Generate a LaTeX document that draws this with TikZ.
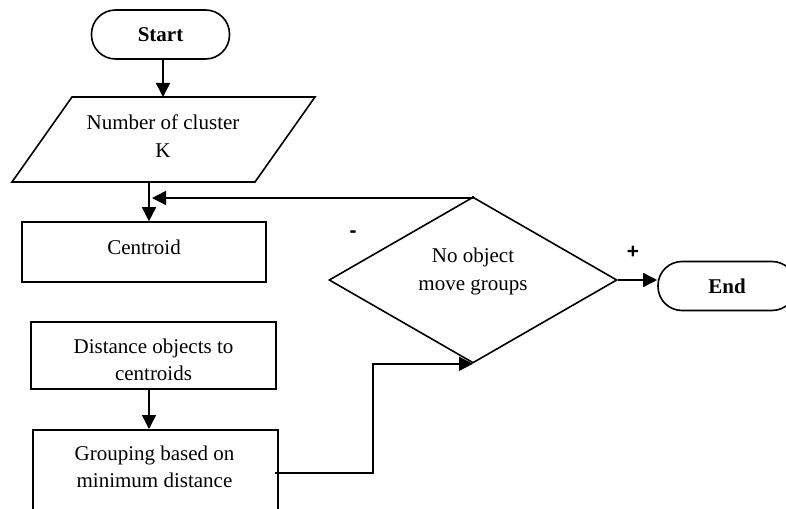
\documentclass[tikz,border=0pt]{standalone}
\usepackage{fontspec}
\setmainfont{Liberation Serif}
\newfontfamily\signfont{Liberation Sans}
\usetikzlibrary{arrows.meta,shapes.geometric}
\begin{document}
\begin{tikzpicture}[x=1pt,y=-1pt,
  line width=1.6pt,
  every node/.style={font=\fontsize{21}{27.5}\selectfont, inner sep=0pt},
  term/.style={draw, rounded corners=24pt, minimum width=138pt, minimum height=49pt},
  boxnode/.style={draw, rectangle},
  txt/.style={align=center},
  decision/.style={draw, diamond, minimum width=288pt, minimum height=166pt, aspect=1.735},
  sign/.style={font=\fontsize{21}{24}\signfont\bfseries},
  arr/.style={-{Triangle[length=14pt,width=14pt]}}
]
\useasboundingbox (0,0) rectangle (786,508);
\clip (0,0) rectangle (786,508);
\fill[white] (0,0) rectangle (786,508);

% Start
\node[term] (start) at (160.5,34.5) {\textbf{Start}};

% Parallelogram input
\coordinate (ptl) at (72,97);
\coordinate (ptr) at (315,97);
\coordinate (pbr) at (255,182);
\coordinate (pbl) at (12,182);
\draw (ptl) -- (ptr) -- (pbr) -- (pbl) -- cycle;
\node[txt] (numk) at (163,136) {Number of cluster\\K};
\coordinate (pin) at (163,97);
\coordinate (pout) at (149,182);

% Centroid
\node[boxnode, minimum width=244pt, minimum height=60pt] (centroid) at (144,252) {};
\node (centroidtxt) at (144,247) {Centroid};

% Distance box
\node[boxnode, minimum width=245pt, minimum height=67pt] (dist) at (153.5,355.5) {};
\begin{scope}
\clip (31,322) rectangle (276,381);
\node[txt] (disttxt) at (153.5,360) {Distance objects to\\centroids};
\end{scope}

% Grouping box
\node[boxnode, minimum width=245pt, minimum height=120pt, anchor=north west] (group) at (32,429) {};
\node[txt] (grouptxt) at (154.5,467) {Grouping based on\\minimum distance};

% Decision
\node[decision] (dec) at (473,280) {};
\node[txt] (dectxt) at (473,271.5) {No object\\move groups};

% End
\node[term] (endn) at (727,286) {\textbf{End}};

% Signs
\node[sign] (minus) at (353,234) {-};
\node[sign] (plus) at (633,252) {+};

% Connectors
\draw[arr] (pin |- start.south) -- (pin);
\draw[arr] (pout) -- (pout |- centroid.north);
\coordinate (fbend) at (152,198);
\draw[arr] (dec.north) -- (dec.north |- fbend) -- (fbend);
\draw[arr] (dec.east) -- (dec.east -| endn.west);
\draw[arr] (149,389) -- (149,429);
\coordinate (gout) at (275,473);
\coordinate (gmid) at (373,473);
\draw[arr] (gout) -- (gmid) -- (gmid |- dec.south) -- (dec.south);
\end{tikzpicture}
\end{document}
